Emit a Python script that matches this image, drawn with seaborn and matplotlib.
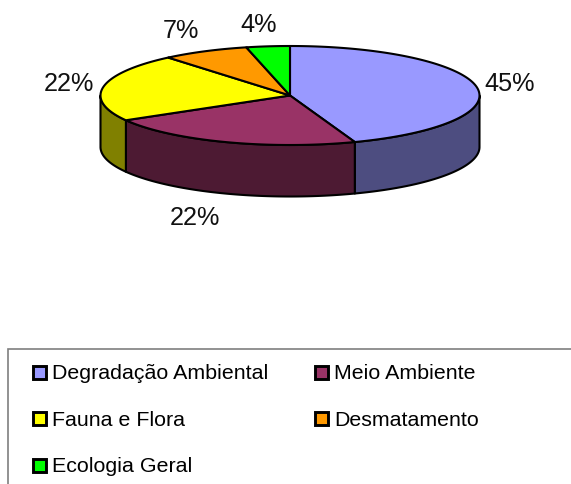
import numpy as np
import matplotlib
matplotlib.use('Agg')
import matplotlib.pyplot as plt
from matplotlib.patches import Rectangle
import seaborn as sns

# Pie values
categories = ['Degradação Ambiental', 'Meio Ambiente', 'Fauna e Flora', 'Desmatamento', 'Ecologia Geral']
counts = [12, 6, 6, 2, 1]
pct_labels = ['45%', '22%', '22%', '7%', '4%']
top_colors = ['#9999FF', '#993366', '#FFFF00', '#FF9900', '#00FF00']
side_colors = ['#4D4D80', '#4D1A33', '#808000', '#804D00', '#008000']

sns.set_theme(style='white')
plt.rcParams['font.family'] = ['Liberation Sans', 'DejaVu Sans']

top_pal = sns.color_palette(top_colors)
side_pal = sns.color_palette(side_colors)

fig = plt.figure(figsize=(5.71, 4.84), dpi=100)
ax = fig.add_axes([0, 0, 1, 1])
ax.set_xlim(0, 571)
ax.set_ylim(484, 0)
ax.axis('off')

# ellipse of the pie top, in pixels
cx, cy = 290, 95.5
rx, ry = 189.5, 49.5
depth = 51.5


def arc(a0, a1, dy=0):
    t = np.radians(np.linspace(a0, a1, 120))
    return cx + rx * np.sin(t), cy + dy - ry * np.cos(t)


edges = np.concatenate([[0], np.cumsum(counts)]) / np.sum(counts) * 360

# sides first, only the front half can be seen
for i in range(len(counts)):
    a0 = max(edges[i], 90)
    a1 = min(edges[i + 1], 270)
    if a1 <= a0:
        continue
    x1, y1 = arc(a0, a1)
    x2, y2 = arc(a1, a0, depth)
    ax.fill(np.r_[x1, x2], np.r_[y1, y2], facecolor=side_pal[i], edgecolor='black', lw=1.5, joinstyle='round')

# then the top slices
for i in range(len(counts)):
    x, y = arc(edges[i], edges[i + 1])
    ax.fill(np.r_[cx, x], np.r_[cy, y], facecolor=top_pal[i], edgecolor='black', lw=1.5, joinstyle='round')

label_pos = [(510, 84), (195, 218), (69, 84), (180.5, 31), (258.5, 25.5)]
for s, (lx, ly) in zip(pct_labels, label_pos):
    ax.text(lx, ly, s, fontsize=18.2, color='#111111', ha='center', va='center')

# legend box runs off the right and bottom of the picture
ax.add_patch(Rectangle((8, 349), 600, 200, facecolor='white', edgecolor='#7f7f7f', lw=1.2))
legend_pos = [(32.5, 372), (315, 372), (32.5, 418.5), (315, 418.5), (32.5, 465.5)]
for i, (lx, ly) in enumerate(legend_pos):
    ax.add_patch(Rectangle((lx, ly - 6.5), 13, 13, facecolor=top_pal[i], edgecolor='black', lw=2.1))
    ax.text(lx + 19, ly + 1.5, categories[i], fontsize=15.4, color='black', ha='left', va='center')

fig.savefig('out.png', dpi=100)
